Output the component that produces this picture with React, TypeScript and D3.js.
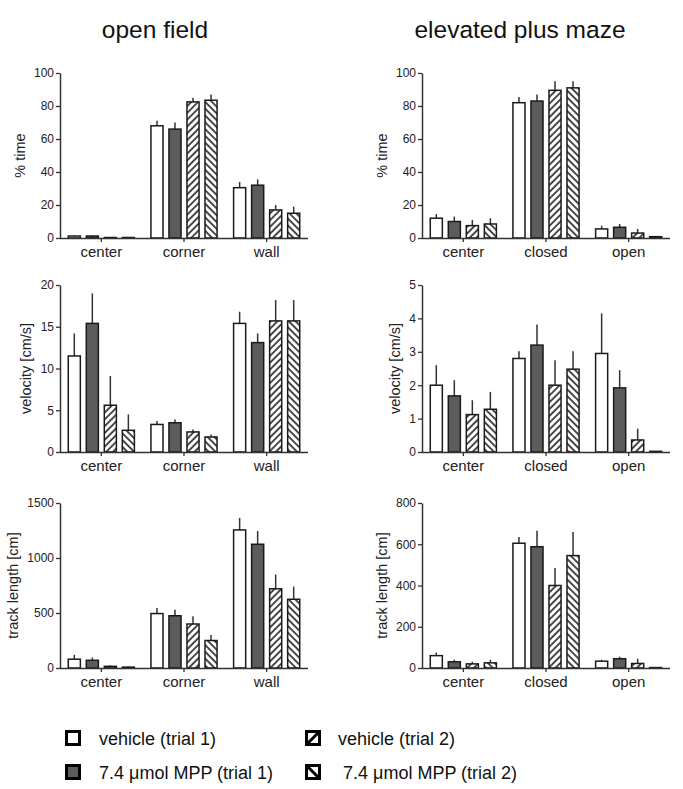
import React, { useEffect, useRef } from 'react';
import * as d3 from 'd3';

// groups and treatments
const series = ['vehicle (trial 1)', '7.4 μmol MPP (trial 1)', 'vehicle (trial 2)', '7.4 μmol MPP (trial 2)'];
const ofCategories = ['center', 'corner', 'wall'];
const epmCategories = ['center', 'closed', 'open'];

// rows = category, columns = treatment (mean / SEM)
const ofTimeMean = [[1.2, 1.2, 0.3, 0.3], [68, 66, 82.5, 83.5], [30.5, 32, 17, 15]];
const ofTimeSem = [[0.3, 0.3, 0.1, 0.1], [3, 4, 2.5, 3.5], [3.5, 3.5, 3, 4]];
const epmTimeMean = [[12, 10, 7.5, 8.5], [82, 83, 89.5, 91], [5.5, 6.5, 3, 0.8]];
const epmTimeSem = [[2.5, 3, 3.5, 3.5], [3.5, 4, 5.5, 4], [2, 2, 2.5, 0.3]];

const ofVelMean = [[11.5, 15.4, 5.6, 2.6], [3.3, 3.5, 2.4, 1.8], [15.4, 13.1, 15.7, 15.7]];
const ofVelSem = [[2.7, 3.6, 3.5, 1.9], [0.4, 0.4, 0.3, 0.3], [1.4, 1.1, 2.5, 2.5]];
const epmVelMean = [[2.0, 1.68, 1.12, 1.28], [2.8, 3.2, 2.0, 2.48], [2.95, 1.92, 0.36, 0.02]];
const epmVelSem = [[0.6, 0.47, 0.43, 0.52], [0.22, 0.62, 0.75, 0.54], [1.2, 0.53, 0.34, 0]];

const ofTrackMean = [[80, 70, 15, 8], [495, 475, 400, 250], [1255, 1125, 720, 625]];
const ofTrackSem = [[40, 25, 10, 4], [50, 55, 70, 50], [110, 120, 130, 115]];
const epmTrackMean = [[60, 30, 20, 25], [605, 588, 400, 545], [33, 45, 22, 2]];
const epmTrackSem = [[15, 10, 10, 15], [30, 77, 85, 115], [7, 10, 23, 0]];

const titles = ['open field', 'elevated plus maze'];

const panels = [
  { col: 0, row: 0, cats: ofCategories, mean: ofTimeMean, sem: ofTimeSem, ticks: [0, 20, 40, 60, 80, 100], label: '% time' },
  { col: 1, row: 0, cats: epmCategories, mean: epmTimeMean, sem: epmTimeSem, ticks: [0, 20, 40, 60, 80, 100], label: '% time' },
  { col: 0, row: 1, cats: ofCategories, mean: ofVelMean, sem: ofVelSem, ticks: [0, 5, 10, 15, 20], label: 'velocity [cm/s]' },
  { col: 1, row: 1, cats: epmCategories, mean: epmVelMean, sem: epmVelSem, ticks: [0, 1, 2, 3, 4, 5], label: 'velocity [cm/s]' },
  { col: 0, row: 2, cats: ofCategories, mean: ofTrackMean, sem: ofTrackSem, ticks: [0, 500, 1000, 1500], label: 'track length [cm]' },
  { col: 1, row: 2, cats: epmCategories, mean: epmTrackMean, sem: epmTrackSem, ticks: [0, 200, 400, 600, 800], label: 'track length [cm]' },
];

const W = 683;
const H = 789;
const FONT = '"Liberation Sans", Arial, sans-serif';
const fills = ['#ffffff', '#5c5c5c', 'url(#hatchUp)', 'url(#hatchDown)'];

const App: React.FC = () => {
  const svgRef = useRef<SVGSVGElement>(null);

  useEffect(() => {
    if (!svgRef.current) return;
    const svg = d3.select(svgRef.current);
    svg.selectAll('*').remove();

    // hatch patterns
    const defs = svg.append('defs');
    [['hatchUp', 45], ['hatchDown', -45]].forEach(([id, angle]) => {
      const p = defs
        .append('pattern')
        .attr('id', id as string)
        .attr('patternUnits', 'userSpaceOnUse')
        .attr('width', 4.8)
        .attr('height', 4.8)
        .attr('patternTransform', `rotate(${angle})`);
      p.append('rect').attr('width', 4.8).attr('height', 4.8).attr('fill', '#fff');
      p.append('line')
        .attr('x1', 1).attr('y1', 0).attr('x2', 1).attr('y2', 4.8)
        .attr('stroke', '#111').attr('stroke-width', 1.5);
    });

    const colX = [60, 422];
    const rowY = [[73, 238], [285, 452], [503, 668]];
    const plotW = 248;

    // column titles
    const titleX = [155, 520];
    titles.forEach((t, i) => {
      svg.append('text')
        .attr('x', titleX[i])
        .attr('y', 38)
        .attr('text-anchor', 'middle')
        .style('font-family', FONT)
        .style('font-size', '24.5px')
        .attr('fill', '#111')
        .text(t);
    });

    panels.forEach((pn) => {
      const x0 = colX[pn.col];
      const [top, bottom] = rowY[pn.row];
      const g = svg.append('g');

      const x = d3.scaleBand<string>()
        .domain(pn.cats)
        .range([x0, x0 + plotW])
        .paddingInner(0.2)
        .paddingOuter(0.1);
      const xs = d3.scaleBand<number>()
        .domain(d3.range(series.length))
        .range([0, x.bandwidth()])
        .paddingInner(0.33);
      const y = d3.scaleLinear()
        .domain([0, pn.ticks[pn.ticks.length - 1]])
        .range([bottom, top]);

      const rows = pn.cats.flatMap((c, ci) =>
        series.map((s, si) => ({ cat: c, si, mean: pn.mean[ci][si], sem: pn.sem[ci][si] }))
      );

      // error bars (upper half only)
      g.selectAll('line.err')
        .data(rows)
        .enter()
        .append('line')
        .attr('class', 'err')
        .attr('x1', (d) => (x(d.cat) as number) + (xs(d.si) as number) + xs.bandwidth() / 2)
        .attr('x2', (d) => (x(d.cat) as number) + (xs(d.si) as number) + xs.bandwidth() / 2)
        .attr('y1', (d) => y(d.mean))
        .attr('y2', (d) => y(d.mean + d.sem))
        .attr('stroke', '#333')
        .attr('stroke-width', 1.5);

      // bars
      g.selectAll('rect.bar')
        .data(rows)
        .enter()
        .append('rect')
        .attr('class', 'bar')
        .attr('x', (d) => (x(d.cat) as number) + (xs(d.si) as number))
        .attr('y', (d) => y(d.mean))
        .attr('width', xs.bandwidth())
        .attr('height', (d) => bottom - y(d.mean))
        .attr('fill', (d) => fills[d.si])
        .attr('stroke', '#1a1a1a')
        .attr('stroke-width', 1.5);

      // y axis
      const yAxis = g.append('g')
        .attr('transform', `translate(${x0},0)`)
        .call(
          d3.axisLeft(y)
            .tickValues(pn.ticks)
            .tickFormat((d) => String(d))
            .tickSize(4)
            .tickSizeOuter(0)
            .tickPadding(2)
        );
      // x axis
      const xAxis = g.append('g')
        .attr('transform', `translate(0,${bottom})`)
        .call(d3.axisBottom(x).tickSize(4).tickSizeOuter(0).tickPadding(4));
      xAxis.select('.domain').attr('d', `M${x0},0.5H${x0 + plotW}`);

      [yAxis, xAxis].forEach((a) => {
        a.select('.domain').attr('stroke', '#333').attr('stroke-width', 1.5);
        a.selectAll('.tick line').attr('stroke', '#333').attr('stroke-width', 1.3);
        a.selectAll('.tick text').attr('fill', '#222').style('font-family', FONT);
      });
      yAxis.selectAll('.tick text').style('font-size', '12px');
      xAxis.selectAll('.tick text').style('font-size', '15px');

      // y label, kept clear of the widest tick label
      const tickW = (d3.max(pn.ticks, (t) => String(t).length) as number) * 6.4;
      g.append('text')
        .attr('transform', `translate(${x0 - 7 - tickW - 14},${(top + bottom) / 2}) rotate(-90)`)
        .attr('text-anchor', 'middle')
        .attr('dy', '0.35em')
        .style('font-family', FONT)
        .style('font-size', '14.5px')
        .attr('fill', '#222')
        .text(pn.label);
    });

    // legend
    const legendPos = [
      { x: 73, y: 738 },
      { x: 73, y: 772 },
      { x: 313, y: 738 },
      { x: 313, y: 772 },
    ];
    const legend = svg.append('g');
    series.forEach((s, i) => {
      const p = legendPos[i];
      const item = legend.append('g').attr('transform', `translate(${p.x},${p.y})`);
      item.append('rect')
        .attr('x', -6.5).attr('y', -6.5)
        .attr('width', 13).attr('height', 13)
        .attr('fill', i === 1 ? '#5c5c5c' : '#fff')
        .attr('stroke', '#000')
        .attr('stroke-width', 3);
      if (i === 2) {
        item.append('line')
          .attr('x1', -6.5).attr('y1', 6.5).attr('x2', 6.5).attr('y2', -6.5)
          .attr('stroke', '#000').attr('stroke-width', 3);
      }
      if (i === 3) {
        item.append('line')
          .attr('x1', -6.5).attr('y1', -6.5).attr('x2', 6.5).attr('y2', 6.5)
          .attr('stroke', '#000').attr('stroke-width', 3);
      }
      item.append('text')
        .attr('x', i < 2 ? 26 : 25 + (i === 3 ? 5 : 0))
        .attr('y', 6.5)
        .style('font-family', FONT)
        .style('font-size', '18px')
        .attr('fill', '#111')
        .text(s);
    });
  }, []);

  return (
    <svg
      ref={svgRef}
      width={W}
      height={H}
      style={{ position: 'absolute', left: 0, top: 0, background: '#fff' }}
    />
  );
};

export default App;
